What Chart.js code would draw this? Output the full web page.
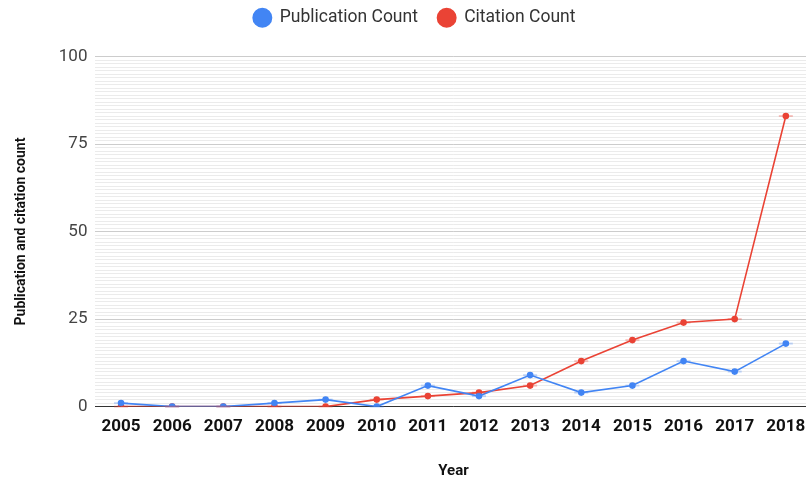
<!DOCTYPE html>
<html><head><meta charset="utf-8">
<script src="https://cdn.jsdelivr.net/npm/chart.js@4/dist/chart.umd.min.js"></script>
<style>
html,body{margin:0;padding:0;background:#fff;overflow:hidden;}
#wrap{position:relative;width:816px;height:480px;}
</style></head>
<body><div id="wrap"><canvas id="c"></canvas></div>
<script>
const years = ['2005','2006','2007','2008','2009','2010','2011','2012','2013','2014','2015','2016','2017','2018'];
const publicationCount = [1,0,0,1,2,0,6,3,9,4,6,13,10,18];
const citationCount = [0,0,0,0,0,2,3,4,6,13,19,24,25,83];
const yMajorTicks = [0,25,50,75,100];

Chart.defaults.font.family = 'Roboto, "Noto Sans", sans-serif';

const intervalMarks = {
  id:'intervalMarks',
  afterDatasetsDraw(chart){
    const ctx = chart.ctx;
    ctx.save();
    chart.data.datasets.forEach((ds,i)=>{
      const meta = chart.getDatasetMeta(i);
      ctx.strokeStyle = ds.borderColor;
      ctx.globalAlpha = 0.3;
      ctx.lineWidth = 2;
      meta.data.forEach(pt=>{
        ctx.beginPath();
        ctx.moveTo(pt.x-7, pt.y); ctx.lineTo(pt.x+7, pt.y);
        ctx.stroke();
      });
    });
    ctx.restore();
  }
};

const legendSpacer = {
  id:'legendSpacer',
  beforeInit(chart){
    const lg = chart.legend;
    if (!lg) return;
    const origFit = lg.fit;
    lg.fit = function(){ origFit.call(this); this.height += 20; };
  }
};

new Chart(document.getElementById('c'), {
  type: 'line',
  data: {
    labels: years,
    datasets: [
      {label:'Publication Count', data: publicationCount, borderColor:'#4285F4', backgroundColor:'#4285F4',
       borderWidth:1.6, pointRadius:2.5, pointHoverRadius:3, tension:0},
      {label:'Citation Count', data: citationCount, borderColor:'#EA4335', backgroundColor:'#EA4335',
       borderWidth:1.6, pointRadius:2.5, pointHoverRadius:3, tension:0}
    ]
  },
  options: {
    responsive:true, maintainAspectRatio:false, animation:false,
    layout:{padding:{top:-11,bottom:0,left:13,right:0}},
    plugins:{
      legend:{position:'top', labels:{usePointStyle:true, pointStyle:'circle', boxWidth:22, boxHeight:13,
        color:'#333', font:{size:17.5}, padding:20}},
      tooltip:{enabled:false}
    },
    scales:{
      x:{
        offset:true,
        grid:{display:false},
        border:{display:false},
        ticks:{color:'#111', font:{size:17, weight:'bold'}, padding:2, maxRotation:0, autoSkip:false},
        title:{display:true, text:'Year', color:'#111', font:{size:15, weight:'bold'}, padding:{top:23,bottom:0}}
      },
      y:{
        min:0, max:100,
        border:{display:false},
        ticks:{stepSize:1, autoSkip:false, color:'#444', font:{size:17}, padding:8,
          callback:(v)=> yMajorTicks.includes(v) ? String(v) : ''},
        grid:{drawTicks:false, lineWidth:1,
          color:(ctx)=> ctx.tick.value===0 ? '#333' : (yMajorTicks.includes(ctx.tick.value) ? '#cccccc' : '#ebebeb')},
        title:{display:true, text:'Publication and citation count', color:'#111', font:{size:14, weight:'bold'}, padding:{top:0,bottom:21}}
      }
    }
  },
  plugins:[legendSpacer, intervalMarks]
});
</script></body></html>
